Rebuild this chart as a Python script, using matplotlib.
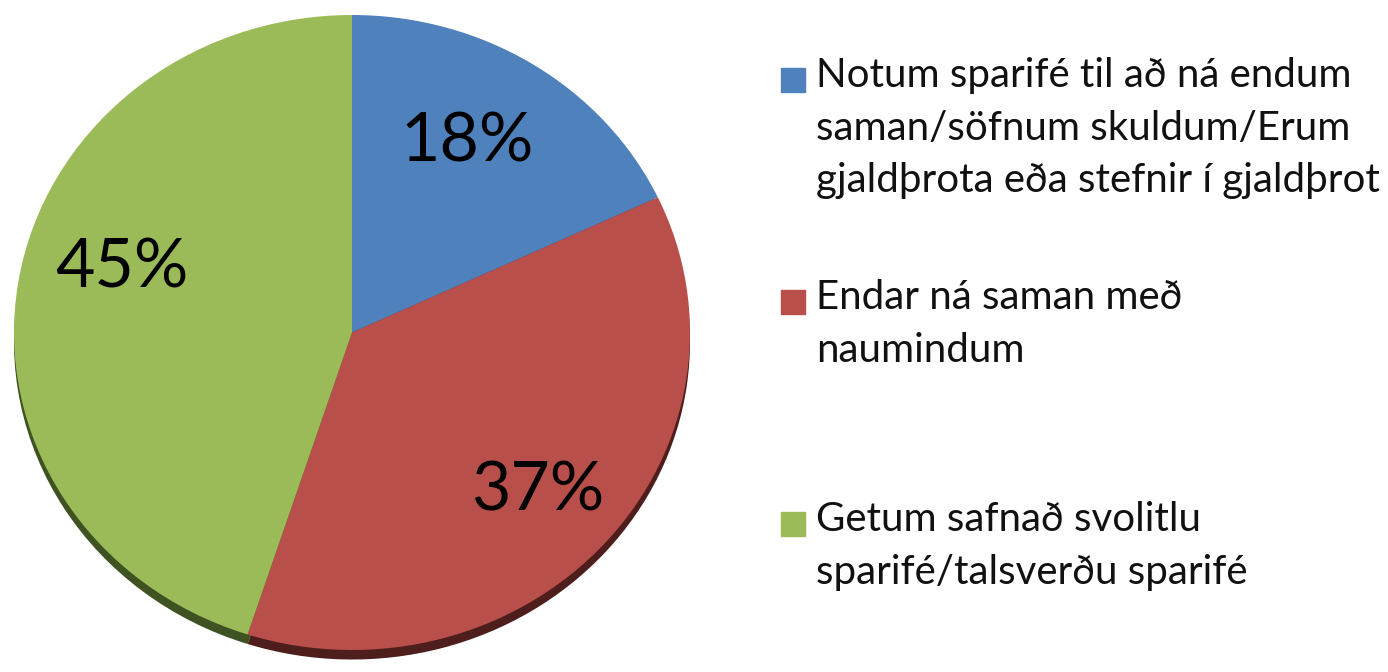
import matplotlib.pyplot as plt
from matplotlib.patches import Rectangle

plt.rcParams['font.family'] = ['Lato', 'DejaVu Sans']

# gögn
flokkar = [
    'Notum sparifé til að ná endum\nsaman/söfnum skuldum/Erum\ngjaldþrota eða stefnir í gjaldþrot',
    'Endar ná saman með\nnaumindum',
    'Getum safnað svolitlu\nsparifé/talsverðu sparifé',
]
hlutfall = [18, 37, 45]
litir = ['#4F81BD', '#B94F4B', '#9BBB59']
skuggalitir = ['#2A4466', '#4E1E1C', '#3E5222']

fig = plt.figure(figsize=(13.88, 6.72), dpi=100)
W, H = 1388, 672

# kakan: x 14..690, y 15..650 (pixlar)
ax = fig.add_axes([14 / W, 1 - 650 / H, 676 / W, 635 / H])

# skuggi / hliðarbrún neðst
ax.pie(hlutfall, colors=skuggalitir, startangle=90, counterclock=False,
       center=(0, -0.03), radius=1, frame=False)
wedges, texts, autotexts = ax.pie(
    hlutfall, colors=litir, startangle=90, counterclock=False,
    autopct='%d%%', pctdistance=0.7, radius=1, frame=False,
    textprops=dict(fontsize=49, color='black'))

# færa merkin eins og í fyrirmynd
autotexts[0].set_position((0.34, 0.6))
autotexts[1].set_position((0.55, -0.5))
autotexts[2].set_position((-0.68, 0.2))

ax.set_xlim(-1.0, 1.0)
ax.set_ylim(-1.0, 1.0)
ax.set_aspect('auto')

# skýringar (legend) teiknaðar handvirkt
y0 = 80
bil = 222
for i, (texti, lit) in enumerate(zip(flokkar, litir)):
    yc = y0 + i * bil
    fig.patches.append(Rectangle((781 / W, 1 - (yc + 12) / H), 24 / W, 24 / H,
                                 transform=fig.transFigure, color=lit))
    fig.text(816 / W, 1 - (yc - 23) / H, texti, fontsize=29, va='top', ha='left',
             color='#111111', linespacing=1.52)

fig.savefig('out.png', dpi=100)
